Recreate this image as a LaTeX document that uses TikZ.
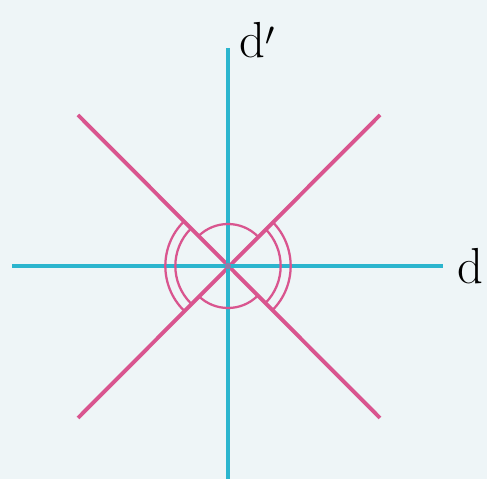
\documentclass[tikz,border=0pt]{standalone}
\usepackage{amsmath,amssymb}
\usepackage{xcolor}
\definecolor{bgpale}{HTML}{EEF5F7}
\definecolor{axiscyan}{HTML}{2BB5CE}
\definecolor{linepink}{HTML}{D9558F}

\begin{document}
\begin{tikzpicture}[x=0.75pt, y=-0.75pt,
    axis/.style={axiscyan, line width=2.9pt},
    slant/.style={linepink, line width=2.9pt},
    anglemark/.style={linepink, line width=1.7pt},
    lab/.style={font=\fontsize{38}{40}\selectfont, inner sep=0pt}]
            \fill[bgpale] (0,0) rectangle (487,479);
            \coordinate (O) at (228,266);
            % the two slanted lines
            \coordinate (tl) at (78,115);
            \coordinate (br) at (380,418);
            \coordinate (tr) at (380,115);
            \coordinate (bl) at (78,418);
            \draw[slant] (tl) -- (br);
            \draw[slant] (tr) -- (bl);
            % the axes d and d'
            \coordinate (dl) at (12,266);
            \coordinate (dr) at (443,266);
            \coordinate (vt) at (228,48);
            \coordinate (vb) at (228,479);
            \draw[axis] (dl) -- (dr);
            \draw[axis] (vb) -- (vt);
            \node[lab, anchor=base west] (d) at (457,284) {d};
            \node[lab, anchor=base west] (dp) at (239,58) {d$'$};
            % angle marks
            \foreach \a in {45,225}
                \draw[anglemark] (O) ++(\a:31.5pt) arc[start angle=\a, end angle=\a+90, radius=31.5pt];
            \foreach \a in {135,315}
                \foreach \r in {39.5pt,47pt}
                    \draw[anglemark] (O) ++(\a:\r) arc[start angle=\a, end angle=\a+90, radius=\r];
            \fill[linepink!60!axiscyan] (O) circle (2.4pt);
        \end{tikzpicture}
\end{document}
